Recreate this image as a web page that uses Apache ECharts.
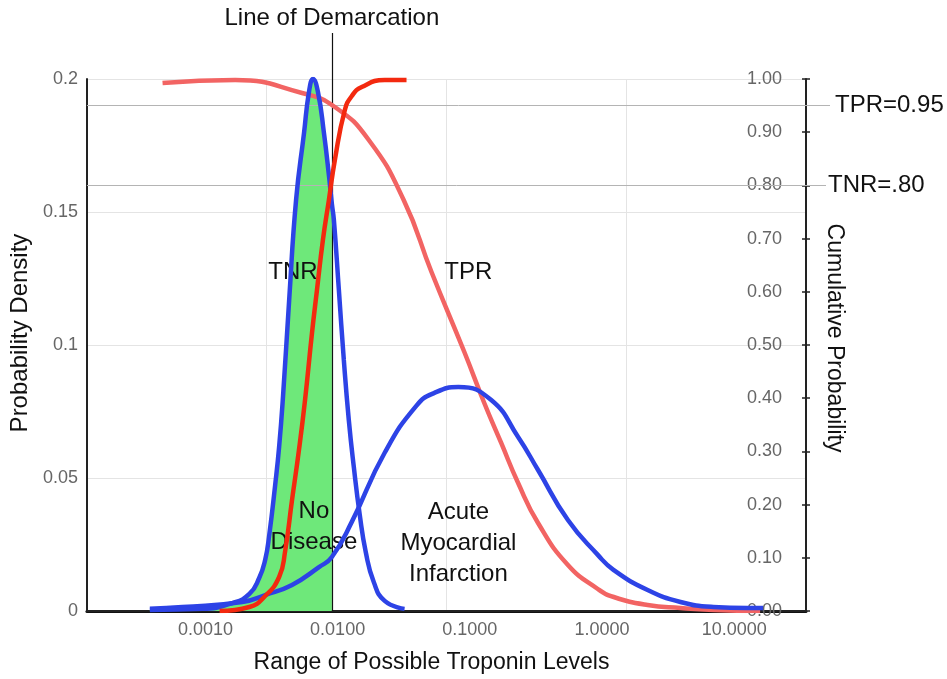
<!DOCTYPE html>
<html><head><meta charset="utf-8">
<script src="https://cdn.jsdelivr.net/npm/echarts@6/dist/echarts.min.js"></script>
<style>html,body{margin:0;padding:0;background:#fff}#c{width:947px;height:679px}</style>
</head><body><div id="c"></div>
<script>
// ---- data ----
// x axis: troponin level (log scale)
const xTickValues = [0.001, 0.01, 0.1, 1, 10];
const X_MIN = 0.000127, X_MAX = 34.9;
// No-disease probability density (left axis)
const noDiseaseX = [0.00038,0.00095,0.0016,0.00215,0.00255,0.00283,0.00304,0.00337,0.00361,0.00387,0.0043,0.00485,0.00557,0.00607,0.00651,0.0071,0.00788,0.00859,0.00905,0.00937,0.01022,0.01114,0.01215,0.01326,0.01471,0.01632,0.01876,0.0227,0.0321];
const noDiseaseY = [0.0004,0.0008,0.003,0.0064,0.0124,0.0192,0.0286,0.0474,0.0617,0.0812,0.1169,0.1545,0.1797,0.1951,0.2,0.1951,0.1797,0.1639,0.153,0.147,0.1207,0.0944,0.0718,0.0541,0.0361,0.0222,0.0109,0.0038,0.0008];
// Acute myocardial infarction probability density (left axis)
const amiX = [0.00038,0.00067,0.0019,0.00283,0.00452,0.00723,0.00905,0.0128,0.0227,0.0395,0.054,0.0819,0.1452,0.2319,0.3281,0.552,0.929,1.226,2.212,3.92,6.95,12.53,16.54];
const amiY = [0.0008,0.0015,0.0034,0.006,0.0098,0.0165,0.0203,0.0335,0.0595,0.0772,0.082,0.0842,0.0793,0.0654,0.053,0.0342,0.0211,0.0154,0.0079,0.0034,0.0015,0.0011,0.0011];
// TNR cumulative curve (right axis)
const tnrX = [0.00128,0.00215,0.00283,0.00361,0.004,0.00452,0.0051,0.00567,0.0064,0.00698,0.00774,0.00859,0.00953,0.01134,0.0128,0.01523,0.0227,0.0332];
const tnrY = [0,0.0075,0.0282,0.0639,0.1109,0.2086,0.3026,0.3966,0.5226,0.6034,0.6974,0.7726,0.8477,0.9417,0.968,0.985,0.998,0.998];
// TPR cumulative curve (right axis)
const tprX = [0.000474,0.00168,0.00538,0.00953,0.0172,0.0316,0.0513,0.0909,0.1286,0.1727,0.2319,0.3281,0.552,0.929,1.226,2.212,3.92,6.95,15.7];
const tprY = [0.9925,0.998,0.9737,0.9474,0.8853,0.7726,0.6372,0.4868,0.391,0.3158,0.2406,0.1654,0.0865,0.0414,0.0263,0.0113,0.0056,0.0019,0];
// demarcation cut-off and reference levels
const demarcation = 0.00905;
const tprLevel = 0.95, tnrLevel = 0.80;
// in-chart text annotations [text, x, cumulative y]
const noteText = ['TNR', 'TPR', 'No\nDisease', 'Acute\nMyocardial\nInfarction'];
const noteX = [0.0046, 0.0974, 0.00662, 0.082];
const noteY = [0.637, 0.637, 0.158, 0.128];

// ---- chart ----
const FONT = '"Liberation Sans", Arial, Helvetica, sans-serif';
const pairs = (xs, ys) => xs.map((x, i) => [x, ys[i]]);
const BLUE = '#2d43e6', RED = '#f3290f', SALMON = '#f26463', GREEN = '#6ee87a';
const chart = echarts.init(document.getElementById('c'), null, {renderer: 'canvas'});
const tnrArea = pairs(noDiseaseX, noDiseaseY).filter(p => p[0] <= demarcation);
const SMOOTH = 0.5;
const lineCommon = {type: 'line', showSymbol: false, symbol: 'none', smooth: SMOOTH, z: 3, silent: true};

const option = {
  animation: false,
  backgroundColor: '#fff',
  textStyle: {fontFamily: FONT},
  grid: {left: 84, right: 141, top: 79, bottom: 68},
  xAxis: [
    {type: 'log', logBase: 10, min: X_MIN, max: X_MAX,
     name: 'Range of Possible Troponin Levels', nameLocation: 'middle', nameGap: 40,
     nameTextStyle: {fontSize: 23, color: '#111', fontFamily: FONT, padding: [0, 30, 0, 0]},
     axisLine: {show: true, lineStyle: {color: '#111', width: 3}},
     axisTick: {show: false}, splitLine: {show: false}, minorTick: {show: false}, minorSplitLine: {show: false},
     axisLabel: {fontSize: 18, color: '#666', margin: 10, fontFamily: FONT, showMinLabel: false, showMaxLabel: false,
       formatter: v => {
         const hit = xTickValues.find(t => Math.abs(Math.log10(v) - Math.log10(t)) < 1e-6);
         return hit !== undefined ? hit.toFixed(4) : '';
       }}},
    {type: 'value', min: 0, max: 4, interval: 1, position: 'top',
     axisLine: {show: true, lineStyle: {color: '#222', width: 2}},
     axisTick: {show: false}, axisLabel: {show: false},
     splitLine: {show: true, lineStyle: {color: '#e4e4e4', width: 1}}}
  ],
  yAxis: [
    {type: 'value', min: 0, max: 0.2, interval: 0.05, position: 'left',
     name: 'Probability Density', nameLocation: 'middle', nameGap: 52,
     nameTextStyle: {fontSize: 24, color: '#111', fontFamily: FONT, padding: [0, 0, 0, 24]},
     axisLine: {show: true, lineStyle: {color: '#222', width: 2}},
     axisTick: {show: false},
     axisLabel: {fontSize: 18, color: '#666', margin: 9, fontFamily: FONT},
     splitLine: {show: true, lineStyle: {color: '#e4e4e4', width: 1}}},
    {type: 'value', min: 0, max: 1, interval: 0.1, position: 'right',
     name: 'Cumulative Probability', nameLocation: 'middle', nameRotate: -90, nameGap: 17,
     nameTextStyle: {fontSize: 23, color: '#111', fontFamily: FONT, padding: [0, 14, 0, 0]},
     axisLine: {show: true, lineStyle: {color: '#222', width: 2}},
     axisTick: {show: true, length: 4, lineStyle: {color: '#222', width: 1.5}},
     axisLabel: {inside: true, margin: 24, fontSize: 18, color: '#666', fontFamily: FONT, formatter: v => v.toFixed(2)},
     splitLine: {show: false}},
    {type: 'value', min: 0, max: 1, interval: 0.1, position: 'right',
     axisLine: {show: false},
     axisTick: {show: true, inside: true, length: 4, lineStyle: {color: '#222', width: 1.5}},
     axisLabel: {show: false}, splitLine: {show: false}}
  ],
  series: [
    {name: 'TNR area', type: 'line', xAxisIndex: 0, yAxisIndex: 0, data: tnrArea,
     showSymbol: false, symbol: 'none', smooth: SMOOTH, z: 1, clip: false, silent: true,
     lineStyle: {width: 0, opacity: 0}, areaStyle: {color: GREEN, opacity: 1},
     markLine: {silent: true, symbol: ['none', 'none'], z: 2,
       lineStyle: {color: '#111', width: 1.2, type: 'solid'},
       label: {show: true, position: 'end', distance: 3, formatter: 'Line of Demarcation', fontSize: 24, color: '#111', fontFamily: FONT},
       data: [[{xAxis: demarcation, yAxis: 0}, {xAxis: demarcation, y: 33}]]}},
    Object.assign({}, lineCommon, {name: 'TPR', xAxisIndex: 0, yAxisIndex: 1, data: pairs(tprX, tprY),
     lineStyle: {color: SALMON, width: 4.5}, itemStyle: {color: SALMON},
     markLine: {silent: true, symbol: ['none', 'none'], z: 2,
       lineStyle: {color: '#b4b4b4', width: 1, type: 'solid'},
       label: {show: true, position: 'end', fontSize: 24, color: '#111', fontFamily: FONT},
       data: [
         [{xAxis: X_MIN, yAxis: tprLevel, label: {formatter: 'TPR=0.95', distance: 5}}, {x: 830, yAxis: tprLevel}],
         [{xAxis: X_MIN, yAxis: tnrLevel, label: {formatter: 'TNR=.80', distance: 2}}, {x: 826, yAxis: tnrLevel}]
       ]},
     markPoint: {silent: true, z: 2, symbol: 'circle', symbolSize: 1, itemStyle: {color: 'rgba(0,0,0,0)'},
       label: {show: true, position: 'inside', fontSize: 24, lineHeight: 31, color: '#111', fontFamily: FONT},
       data: noteText.map((t, i) => ({coord: [noteX[i], noteY[i]], label: {formatter: t}}))}}),
    Object.assign({}, lineCommon, {name: 'AMI', xAxisIndex: 0, yAxisIndex: 0, data: pairs(amiX, amiY),
     lineStyle: {color: BLUE, width: 4.5}, itemStyle: {color: BLUE}}),
    Object.assign({}, lineCommon, {name: 'No Disease', xAxisIndex: 0, yAxisIndex: 0, data: pairs(noDiseaseX, noDiseaseY),
     lineStyle: {color: BLUE, width: 4.5}, itemStyle: {color: BLUE}}),
    Object.assign({}, lineCommon, {name: 'TNR', xAxisIndex: 0, yAxisIndex: 1, data: pairs(tnrX, tnrY),
     lineStyle: {color: RED, width: 4.5}, itemStyle: {color: RED}})
  ]
};
chart.setOption(option);
</script>
</body></html>
